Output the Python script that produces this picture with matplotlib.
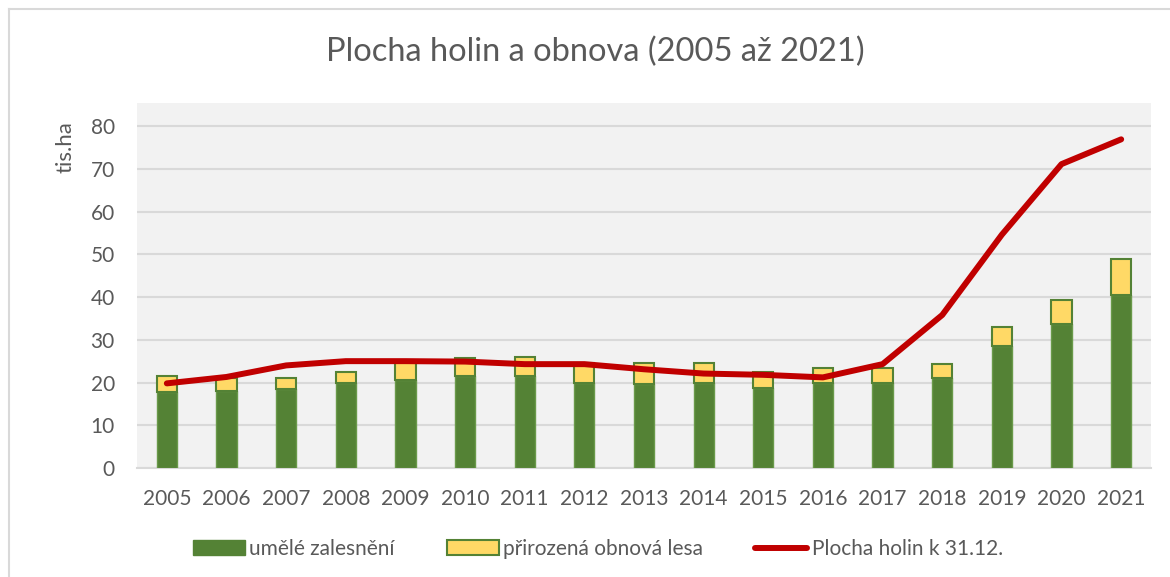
import matplotlib
matplotlib.use("Agg")
import matplotlib.pyplot as plt
from matplotlib.lines import Line2D
from matplotlib.patches import Patch
import numpy as np

plt.rcParams['font.family'] = ['Lato', 'DejaVu Sans']

years = ["2005", "2006", "2007", "2008", "2009", "2010", "2011", "2012", "2013",
         "2014", "2015", "2016", "2017", "2018", "2019", "2020", "2021"]
umele = [17.8, 18.1, 18.4, 19.8, 20.7, 21.6, 21.6, 19.8, 19.6,
         19.8, 18.8, 20.0, 20.0, 21.0, 28.6, 33.6, 40.5]
prirozena = [3.7, 2.9, 2.7, 2.7, 4.0, 4.1, 4.4, 4.7, 4.9,
             4.7, 3.7, 3.5, 3.5, 3.3, 4.5, 5.7, 8.3]
holiny = [19.8, 21.3, 24.0, 25.0, 25.0, 24.9, 24.3, 24.3, 23.1,
          22.1, 21.8, 21.2, 24.3, 35.8, 54.6, 71.1, 76.9]
yticks = [0, 10, 20, 30, 40, 50, 60, 70, 80]

W, H = 1170, 577
fig = plt.figure(figsize=(W / 100, H / 100), dpi=100)
fig.patch.set_facecolor('white')

# figure border (top and left visible)
fig.add_artist(Line2D([9 / W, 9 / W], [0, 1 - 9 / H], transform=fig.transFigure,
                      color='#D9D9D9', lw=1.5))
fig.add_artist(Line2D([9 / W, 1], [1 - 9 / H, 1 - 9 / H], transform=fig.transFigure,
                      color='#D9D9D9', lw=1.5))

ax = fig.add_axes([137 / W, 1 - 468 / H, (1151 - 137) / W, (468 - 103) / H])
ax.set_facecolor('#F2F2F2')
x = np.arange(len(years))
bw = 0.34
green = '#548235'
yellow = '#FFD966'
red = '#C00000'
txt = '#595959'
ax.bar(x, umele, bw, color=green, edgecolor='#6A9A4A', linewidth=1, zorder=3,
       label='umělé zalesnění')
ax.bar(x, prirozena, bw, bottom=umele, color=yellow, edgecolor=green, linewidth=1.5,
       zorder=3, label='přirozená obnová lesa')
ax.plot(x, holiny, color=red, lw=4.3, solid_capstyle='round', zorder=4,
        label='Plocha holin k 31.12.')

ax.set_xlim(-0.5, len(years) - 0.5)
ax.set_ylim(0, 85.4)
ax.set_yticks(yticks)
ax.set_xticks(x)
ax.set_xticklabels(years)
ax.yaxis.grid(True, color='#D9D9D9', lw=1.5, zorder=0)
ax.set_axisbelow(True)
for s in ['top', 'right', 'left']:
    ax.spines[s].set_visible(False)
ax.spines['bottom'].set_color('#D9D9D9')
ax.spines['bottom'].set_linewidth(1.5)
ax.tick_params(axis='both', length=0, labelsize=15, colors=txt)
ax.tick_params(axis='x', pad=15)
ax.tick_params(axis='y', pad=16)

fig.text(595 / W, 1 - 52 / H, 'Plocha holin a obnova (2005 až 2021)', ha='center',
         va='center', fontsize=23.5, color=txt)
fig.text(66 / W, 1 - 147 / H, 'tis.ha', rotation=90, ha='center', va='center',
         fontsize=16, color=txt)

handles = [Patch(facecolor=green, edgecolor=green),
           Patch(facecolor=yellow, edgecolor=green, linewidth=1.5),
           Line2D([0], [0], color=red, lw=4.3, solid_capstyle='round')]
labels = ['umělé zalesnění', 'přirozená obnová lesa', 'Plocha holin k 31.12.']
fig.legend(handles, labels, loc='center', bbox_to_anchor=(0.511, 1 - 549 / H), ncol=3,
           frameon=False, fontsize=15, labelcolor=txt, handlelength=2.5,
           handleheight=0.7, handletextpad=0.2, columnspacing=2.5)

fig.savefig('out.png', dpi=100)
